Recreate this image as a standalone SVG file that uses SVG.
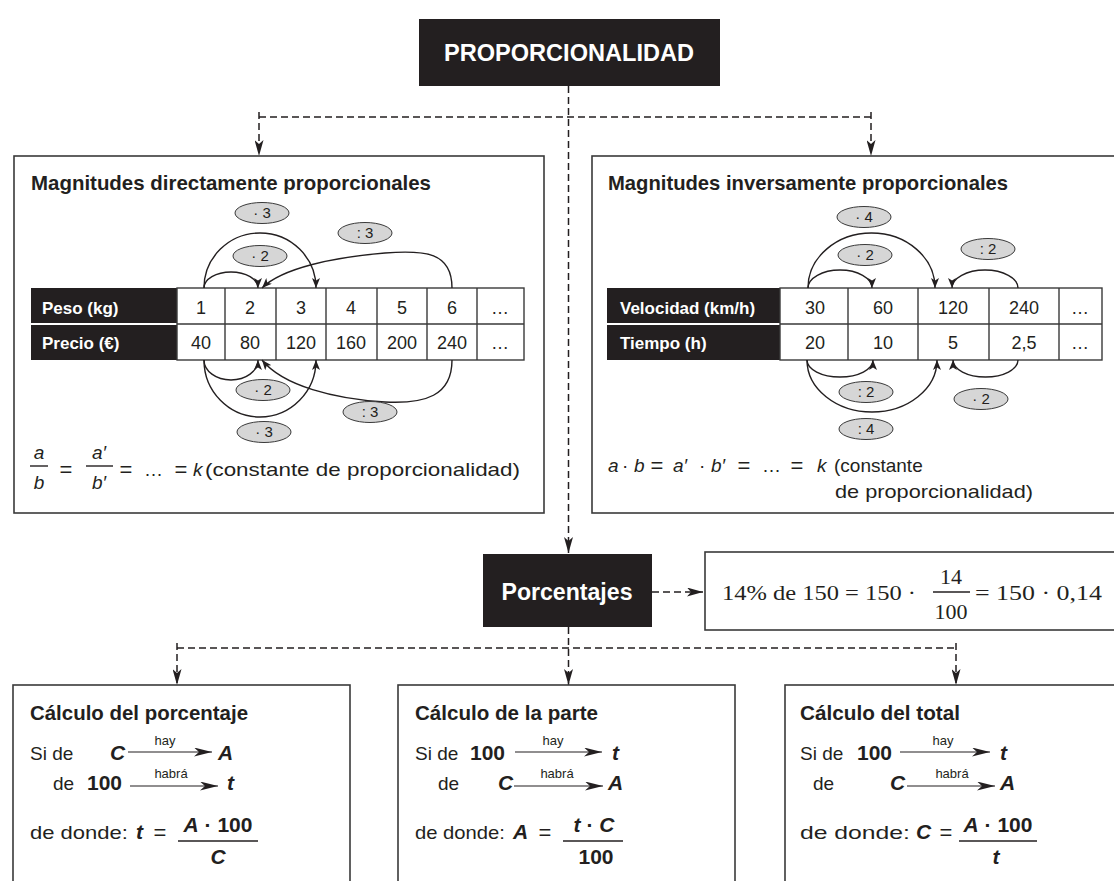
<svg xmlns="http://www.w3.org/2000/svg" width="1114" height="881" viewBox="0 0 1114 881">
<defs>
<style>
text{font-family:"Liberation Sans",Arial,sans-serif;fill:#231f20}
.box{fill:#fff;stroke:#3a3a3a;stroke-width:1.6}
.dark{fill:#231f20}
.ttl{font-weight:bold;font-size:21px}
.ttl2{font-weight:bold;font-size:20px}
.big{font-weight:bold;font-size:23px;fill:#fff;text-anchor:middle}
.grid{fill:none;stroke:#3a3a3a;stroke-width:1.4}
.val{font-size:18px;text-anchor:middle}
.hd{font-weight:bold;font-size:17px;fill:#fff}
.tag ellipse{fill:#d6d6d6;stroke:#3a3a3a;stroke-width:1}
.tag text{font-size:15px;text-anchor:middle}
.arc{fill:none;stroke:#231f20;stroke-width:1.4;marker-end:url(#tip)}
.dash{fill:none;stroke:#231f20;stroke-width:1.5;stroke-dasharray:7 4}
.dash-arrow{fill:none;stroke:#231f20;stroke-width:1.5;stroke-dasharray:7 4;marker-end:url(#tip-dash)}
.body{font-size:19px}
.it{font-style:italic}
.eq{font-size:22px;text-anchor:middle}
.mid{text-anchor:middle}
.bi{font-weight:bold;font-style:italic;font-size:21px}
.b{font-weight:bold;font-size:21px}
.small{font-size:13px;text-anchor:middle}
.flow{stroke:#231f20;stroke-width:1.2;marker-end:url(#tip-flow)}
.bar{stroke:#231f20;stroke-width:1.4}
.serif{font-family:"Liberation Serif","Times New Roman",serif;font-size:22px}
</style>
<marker id="tip" markerUnits="userSpaceOnUse" viewBox="0 0 10 8" markerWidth="10" markerHeight="8" refX="10" refY="4" orient="auto">
<path d="M0,0 L10,4 L0,8 L2.5,4z" fill="#231f20"/>
</marker>
<marker id="tip-dash" markerUnits="userSpaceOnUse" viewBox="0 0 16 9" markerWidth="16" markerHeight="9" refX="16" refY="4.5" orient="auto">
<path d="M0,0 L16,4.5 L0,9 L4,4.5z" fill="#231f20"/>
</marker>
<marker id="tip-flow" markerUnits="userSpaceOnUse" viewBox="0 0 18 9" markerWidth="18" markerHeight="9" refX="18" refY="4.5" orient="auto">
<path d="M0,0 L18,4.5 L0,9 L5,4.5z" fill="#231f20"/>
</marker>
</defs>
<rect width="1114" height="881" fill="#fff"/>

<!-- connectors -->
<g id="connectors">
<path class="dash-arrow" d="M568.5,86 V553"/>
<path class="dash" d="M259,117 H871"/>
<path class="dash-arrow" d="M259,112 V156"/>
<path class="dash-arrow" d="M871,112 V156"/>
<path class="dash-arrow" d="M568.5,627 V685"/>
<path class="dash" d="M177,648 H956"/>
<path class="dash-arrow" d="M177,643 V685"/>
<path class="dash-arrow" d="M956,643 V685"/>
<path class="dash-arrow" d="M652,592 H703"/>
</g>

<!-- root node -->
<g id="title">
<rect class="dark" x="419" y="19" width="301" height="67"/>
<text class="big" x="569" y="61" font-size="24" textLength="250" lengthAdjust="spacingAndGlyphs">PROPORCIONALIDAD</text>
</g>

<!-- direct proportionality -->
<g id="box-direct">
<rect class="box" x="14" y="156" width="530" height="357"/>
<text class="ttl" x="31" y="190" textLength="400" lengthAdjust="spacingAndGlyphs">Magnitudes directamente proporcionales</text>
<rect class="dark" x="31" y="288" width="146" height="35"/>
<rect class="dark" x="31" y="325" width="146" height="35"/>
<text class="hd" x="42" y="314">Peso (kg)</text>
<text class="hd" x="42" y="349">Precio (€)</text>
<rect class="grid" x="177" y="288" width="347" height="72"/>
<path class="grid" d="M177,324 H524 M225,288 V360 M276,288 V360 M326,288 V360 M377,288 V360 M427,288 V360 M477,288 V360"/>
<g class="val">
<text x="201" y="314">1</text><text x="250" y="314">2</text><text x="301" y="314">3</text><text x="351" y="314">4</text><text x="402" y="314">5</text><text x="452" y="314">6</text><text x="500" y="314">…</text>
<text x="201" y="349">40</text><text x="250" y="349">80</text><text x="301" y="349">120</text><text x="351" y="349">160</text><text x="402" y="349">200</text><text x="452" y="349">240</text><text x="500" y="349">…</text>
</g>
<path class="arc" d="M204,288 A56,55 0 0 1 316,288"/>
<path class="arc" d="M204,288 A27,16 0 0 1 258,288"/>
<path class="arc" d="M452,288 C452,252 425,250 385,253 C335,257 282,268 262,288"/>
<path class="arc" d="M204,360 A27,20 0 0 0 258,360"/>
<path class="arc" d="M204,360 A56,57 0 0 0 316,360"/>
<path class="arc" d="M452,360 C452,396 425,404 385,402 C335,399 283,386 262,360"/>
<g class="tag">
<ellipse cx="262" cy="213" rx="27" ry="10.5"/><text x="262" y="218">· 3</text>
<ellipse cx="260" cy="256" rx="27" ry="10.5"/><text x="260" y="261">· 2</text>
<ellipse cx="365" cy="233" rx="27" ry="10.5"/><text x="365" y="238">: 3</text>
<ellipse cx="263" cy="390" rx="27" ry="10.5"/><text x="263" y="395">· 2</text>
<ellipse cx="264" cy="432" rx="27" ry="10.5"/><text x="264" y="437">· 3</text>
<ellipse cx="370" cy="412" rx="27" ry="10.5"/><text x="370" y="417">: 3</text>
</g>
<text class="body it mid" x="39" y="459">a</text>
<line class="bar" x1="30" y1="466" x2="48" y2="466"/>
<text class="body it mid" x="39" y="489">b</text>
<text class="eq" x="66" y="477">=</text>
<text class="body it mid" x="99" y="459">a′</text>
<line class="bar" x1="86" y1="466" x2="113" y2="466"/>
<text class="body it mid" x="99" y="489">b′</text>
<text class="eq" x="126" y="477">=</text>
<text class="body" x="144" y="476">…</text>
<text class="eq" x="181" y="477">=</text>
<text class="body it" x="193" y="476">k</text>
<text class="body" x="205" y="476" textLength="315" lengthAdjust="spacingAndGlyphs">(constante de proporcionalidad)</text>
</g>

<!-- inverse proportionality -->
<g id="box-inverse">
<rect class="box" x="592" y="156" width="540" height="357"/>
<text class="ttl" x="608" y="190" textLength="400" lengthAdjust="spacingAndGlyphs">Magnitudes inversamente proporcionales</text>
<rect class="dark" x="607" y="288" width="173" height="35"/>
<rect class="dark" x="607" y="325" width="173" height="35"/>
<text class="hd" x="620" y="314">Velocidad (km/h)</text>
<text class="hd" x="620" y="349">Tiempo (h)</text>
<rect class="grid" x="780" y="288" width="322" height="72"/>
<path class="grid" d="M780,324 H1102 M848,288 V360 M918,288 V360 M989,288 V360 M1059,288 V360"/>
<g class="val">
<text x="815" y="314">30</text><text x="883" y="314">60</text><text x="953" y="314">120</text><text x="1024" y="314">240</text><text x="1080" y="314">…</text>
<text x="815" y="349">20</text><text x="883" y="349">10</text><text x="953" y="349">5</text><text x="1024" y="349">2,5</text><text x="1080" y="349">…</text>
</g>
<path class="arc" d="M808,288 A63.5,55 0 0 1 935,288"/>
<path class="arc" d="M808,288 A32,18 0 0 1 872,288"/>
<path class="arc" d="M1018,288 A33,18 0 0 0 952,288"/>
<path class="arc" d="M807,360 A33,17 0 0 0 873,360"/>
<path class="arc" d="M807,360 A65,52 0 0 0 937,360"/>
<path class="arc" d="M1018,360 A32.5,17 0 0 1 953,360"/>
<g class="tag">
<ellipse cx="864" cy="217" rx="27" ry="10.5"/><text x="864" y="222">· 4</text>
<ellipse cx="865" cy="255" rx="27" ry="10.5"/><text x="865" y="260">· 2</text>
<ellipse cx="988" cy="249" rx="27" ry="10.5"/><text x="988" y="254">: 2</text>
<ellipse cx="866" cy="392" rx="27" ry="10.5"/><text x="866" y="397">: 2</text>
<ellipse cx="866" cy="429" rx="27" ry="10.5"/><text x="866" y="434">: 4</text>
<ellipse cx="981" cy="399" rx="27" ry="10.5"/><text x="981" y="404">· 2</text>
</g>
<text class="body" y="472"><tspan x="608" class="it">a</tspan><tspan x="622">·</tspan><tspan x="634" class="it">b</tspan></text>
<text class="eq" x="657" y="473">=</text>
<text class="body" y="472"><tspan x="673" class="it">a′</tspan><tspan x="699">·</tspan><tspan x="711" class="it">b′</tspan></text>
<text class="eq" x="744" y="473">=</text>
<text class="body" x="762" y="472">…</text>
<text class="eq" x="797" y="473">=</text>
<text class="body it" x="817" y="472">k</text>
<text class="body" x="834" y="472">(constante</text>
<text class="body" x="835" y="498" textLength="198" lengthAdjust="spacingAndGlyphs">de proporcionalidad)</text>
</g>

<!-- percentages -->
<g id="porcentajes">
<rect class="dark" x="483" y="554" width="169" height="73"/>
<text class="big" x="567" y="600" font-size="22" textLength="131" lengthAdjust="spacingAndGlyphs">Porcentajes</text>
</g>

<g id="formula-pct">
<rect class="box" x="705" y="552" width="420" height="78"/>
<text class="serif" x="722" y="600" textLength="194" lengthAdjust="spacingAndGlyphs">14% de 150 = 150 ·</text>
<text class="serif mid" x="951" y="584">14</text>
<line class="bar" x1="933" y1="592" x2="970" y2="592"/>
<text class="serif mid" x="951" y="619">100</text>
<text class="serif" x="975" y="600" textLength="127" lengthAdjust="spacingAndGlyphs">= 150 · 0,14</text>
</g>

<!-- percentage of a quantity -->
<g id="box-calc-pct">
<rect class="box" x="13" y="685" width="337" height="220"/>
<text class="ttl2" x="30" y="720" textLength="218" lengthAdjust="spacingAndGlyphs">Cálculo del porcentaje</text>
<text class="body" x="30" y="760">Si de</text>
<text class="bi" x="110" y="760">C</text>
<line class="flow" x1="128" y1="752" x2="212" y2="752"/>
<text class="small" x="165" y="745">hay</text>
<text class="bi" x="218" y="760">A</text>
<text class="body" x="53" y="790">de</text>
<text class="b" x="87" y="790">100</text>
<line class="flow" x1="130" y1="786" x2="218" y2="786"/>
<text class="small" x="171" y="778">habrá</text>
<text class="bi" x="227" y="790">t</text>
<text class="body" x="30" y="839" textLength="98" lengthAdjust="spacingAndGlyphs">de donde:</text>
<text class="bi" x="136" y="839">t</text>
<text class="eq" x="160" y="840">=</text>
<text class="b" x="218" y="832" text-anchor="middle"><tspan font-style="italic">A</tspan> · 100</text>
<line class="bar" x1="178" y1="841" x2="258" y2="841"/>
<text class="bi" x="218" y="864" text-anchor="middle">C</text>
</g>

<!-- part of a quantity -->
<g id="box-calc-parte">
<rect class="box" x="398" y="685" width="337" height="220"/>
<text class="ttl2" x="415" y="720" textLength="183" lengthAdjust="spacingAndGlyphs">Cálculo de la parte</text>
<text class="body" x="415" y="760">Si de</text>
<text class="b" x="470" y="760">100</text>
<line class="flow" x1="515" y1="752" x2="602" y2="752"/>
<text class="small" x="553" y="745">hay</text>
<text class="bi" x="612" y="760">t</text>
<text class="body" x="438" y="790">de</text>
<text class="bi" x="498" y="790">C</text>
<line class="flow" x1="514" y1="786" x2="603" y2="786"/>
<text class="small" x="557" y="778">habrá</text>
<text class="bi" x="608" y="790">A</text>
<text class="body" x="415" y="839" textLength="90" lengthAdjust="spacingAndGlyphs">de donde:</text>
<text class="bi" x="513" y="839">A</text>
<text class="eq" x="545" y="840">=</text>
<text class="b" x="594" y="832" text-anchor="middle"><tspan font-style="italic">t</tspan> · <tspan font-style="italic">C</tspan></text>
<line class="bar" x1="563" y1="841" x2="623" y2="841"/>
<text class="b" x="596" y="864" text-anchor="middle">100</text>
</g>

<!-- total of a quantity -->
<g id="box-calc-total">
<rect class="box" x="785" y="685" width="340" height="220"/>
<text class="ttl2" x="800" y="720" textLength="160" lengthAdjust="spacingAndGlyphs">Cálculo del total</text>
<text class="body" x="800" y="760">Si de</text>
<text class="b" x="857" y="760">100</text>
<line class="flow" x1="900" y1="752" x2="990" y2="752"/>
<text class="small" x="943" y="745">hay</text>
<text class="bi" x="1000" y="760">t</text>
<text class="body" x="813" y="790">de</text>
<text class="bi" x="890" y="790">C</text>
<line class="flow" x1="907" y1="786" x2="995" y2="786"/>
<text class="small" x="952" y="778">habrá</text>
<text class="bi" x="1000" y="790">A</text>
<text class="body" x="800" y="839" textLength="110" lengthAdjust="spacingAndGlyphs">de donde:</text>
<text class="bi" x="916" y="839">C</text>
<text class="eq" x="946" y="840">=</text>
<text class="b" x="998" y="832" text-anchor="middle"><tspan font-style="italic">A</tspan> · 100</text>
<line class="bar" x1="959" y1="841" x2="1037" y2="841"/>
<text class="bi" x="996" y="864" text-anchor="middle">t</text>
</g>
</svg>
